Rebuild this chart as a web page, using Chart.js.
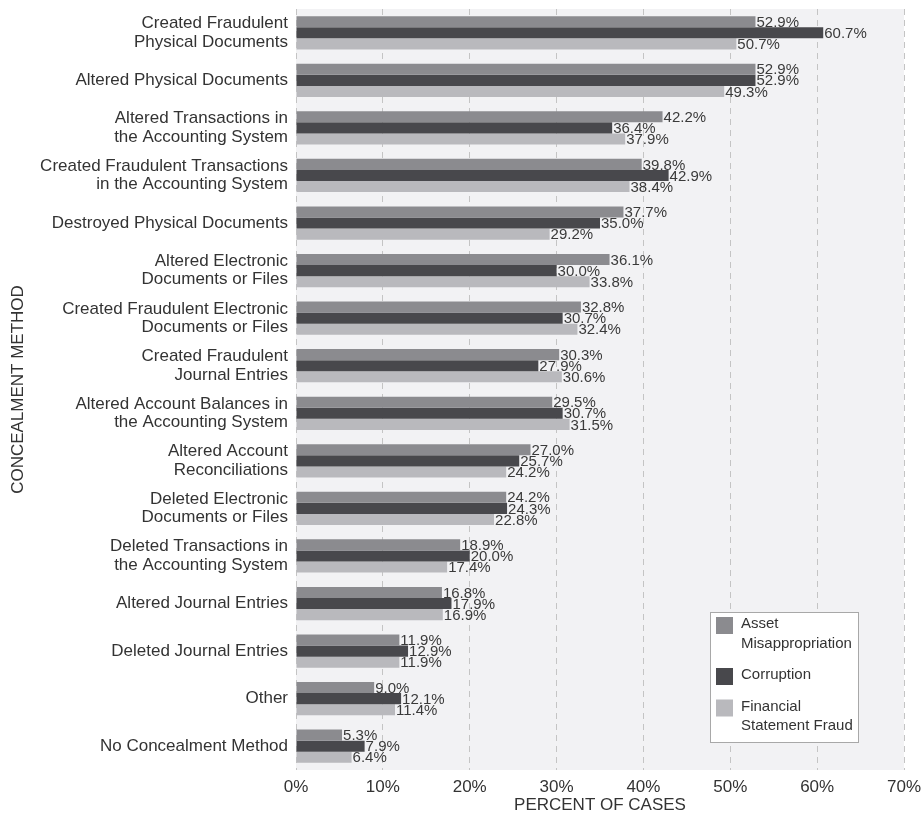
<!DOCTYPE html>
<html>
<head>
<meta charset="utf-8">
<title>Concealment Method by Scheme Type</title>
<script src="https://cdn.jsdelivr.net/npm/chart.js@4.4.1/dist/chart.umd.min.js"></script>
<style>
  html, body { margin: 0; padding: 0; background: #ffffff; }
  #wrap { width: 922px; height: 821px; position: relative; }
</style>
</head>
<body>
<div id="wrap"><canvas id="chart"></canvas></div>
<script>
const CATEGORIES = [
  ["Created Fraudulent", "Physical Documents"],
  "Altered Physical Documents",
  ["Altered Transactions in", "the Accounting System"],
  ["Created Fraudulent Transactions", "in the Accounting System"],
  "Destroyed Physical Documents",
  ["Altered Electronic", "Documents or Files"],
  ["Created Fraudulent Electronic", "Documents or Files"],
  ["Created Fraudulent", "Journal Entries"],
  ["Altered Account Balances in", "the Accounting System"],
  ["Altered Account", "Reconciliations"],
  ["Deleted Electronic", "Documents or Files"],
  ["Deleted Transactions in", "the Accounting System"],
  "Altered Journal Entries",
  "Deleted Journal Entries",
  "Other",
  "No Concealment Method",
];

const ASSET_MISAPPROPRIATION = [52.9, 52.9, 42.2, 39.8, 37.7, 36.1, 32.8, 30.3, 29.5, 27.0, 24.2, 18.9, 16.8, 11.9, 9.0, 5.3];
const CORRUPTION = [60.7, 52.9, 36.4, 42.9, 35.0, 30.0, 30.7, 27.9, 30.7, 25.7, 24.3, 20.0, 17.9, 12.9, 12.1, 7.9];
const FINANCIAL_STATEMENT_FRAUD = [50.7, 49.3, 37.9, 38.4, 29.2, 33.8, 32.4, 30.6, 31.5, 24.2, 22.8, 17.4, 16.9, 11.9, 11.4, 6.4];

const SERIES_LABELS = ["Asset Misappropriation", "Corruption", "Financial Statement Fraud"];
const LEGEND_LINES = [["Asset", "Misappropriation"], ["Corruption"], ["Financial", "Statement Fraud"]];
const X_TICKS = [0, 10, 20, 30, 40, 50, 60, 70];

const COLORS = ["#8b8b8f", "#48484c", "#b9b9bd"];
const FONT = '"Liberation Sans", Arial, Helvetica, sans-serif';
const TEXT = "#333333";

// light grey plot panel behind the bars
const panelBackground = {
  id: "panelBackground",
  beforeDraw(chart) {
    const { ctx, chartArea: a } = chart;
    ctx.save();
    ctx.fillStyle = "#f2f2f4";
    ctx.fillRect(a.left, a.top, a.right - a.left, a.bottom - a.top);
    ctx.restore();
  },
};

// "52.9%" style labels at the end of each bar
const valueLabels = {
  id: "valueLabels",
  afterDatasetsDraw(chart) {
    const { ctx } = chart;
    ctx.save();
    ctx.font = "15px " + FONT;
    ctx.fillStyle = "#3a3a3a";
    ctx.textBaseline = "middle";
    ctx.textAlign = "left";
    chart.data.datasets.forEach((ds, i) => {
      chart.getDatasetMeta(i).data.forEach((bar, j) => {
        ctx.fillText(ds.data[j].toFixed(1) + "%", bar.x + 1, bar.y + 1);
      });
    });
    ctx.restore();
  },
};

// boxed legend in the lower right corner, with wrapped labels
const boxLegend = {
  id: "boxLegend",
  afterDraw(chart) {
    const { ctx, chartArea: a } = chart;
    const boxW = 148, boxH = 130;
    const left = a.right - 46 - boxW;
    const top = a.bottom - 28 - boxH;
    ctx.save();
    ctx.fillStyle = "#ffffff";
    ctx.fillRect(left, top, boxW, boxH);
    ctx.strokeStyle = "#a8a8a8";
    ctx.lineWidth = 1;
    ctx.strokeRect(left + 0.5, top + 0.5, boxW, boxH);
    ctx.font = "15px " + FONT;
    ctx.textBaseline = "middle";
    ctx.textAlign = "left";
    let y = top + 5;
    chart.data.datasets.forEach((ds, i) => {
      const lines = LEGEND_LINES[i];
      ctx.fillStyle = ds.backgroundColor;
      ctx.fillRect(left + 6, y, 17, 17);
      ctx.fillStyle = TEXT;
      lines.forEach((line, k) => ctx.fillText(line, left + 31, y + 7 + k * 19.5));
      y += lines.length * 19.5 + 12;
    });
    ctx.restore();
  },
};

new Chart(document.getElementById("chart"), {
  type: "bar",
  data: {
    labels: CATEGORIES,
    datasets: [
      { label: SERIES_LABELS[0], data: ASSET_MISAPPROPRIATION, backgroundColor: COLORS[0] },
      { label: SERIES_LABELS[1], data: CORRUPTION, backgroundColor: COLORS[1] },
      { label: SERIES_LABELS[2], data: FINANCIAL_STATEMENT_FRAUD, backgroundColor: COLORS[2] },
    ],
  },
  options: {
    indexAxis: "y",
    responsive: true,
    maintainAspectRatio: false,
    animation: false,
    datasets: { bar: { categoryPercentage: 0.7, barPercentage: 1.0, borderWidth: 0 } },
    layout: { padding: { top: 9, right: 18, bottom: 0, left: 0 } },
    plugins: { legend: { display: false }, tooltip: { enabled: false } },
    scales: {
      x: {
        min: 0,
        max: 70,
        afterBuildTicks: (scale) => { scale.ticks = X_TICKS.map((v) => ({ value: v })); },
        afterFit: (scale) => { scale.height = 51; scale.paddingLeft = 0; scale.paddingRight = 0; },
        border: { display: false, dash: [6, 5] },
        grid: { color: "#c4c4c4", drawTicks: false },
        ticks: {
          padding: 7,
          color: TEXT,
          font: { family: FONT, size: 17 },
          callback: (v) => v + "%",
        },
        title: {
          display: true,
          text: "PERCENT OF CASES",
          color: TEXT,
          font: { family: FONT, size: 17 },
          padding: { top: 0, bottom: 5 },
        },
      },
      y: {
        afterFit: (scale) => { scale.width = 296; scale.paddingTop = 0; scale.paddingBottom = 0; },
        border: { display: false },
        grid: { display: false, drawTicks: false },
        ticks: {
          padding: 8,
          color: TEXT,
          autoSkip: false,
          font: { family: FONT, size: 17, lineHeight: 1.08 },
        },
        title: {
          display: true,
          text: "CONCEALMENT METHOD",
          color: TEXT,
          font: { family: FONT, size: 17 },
          padding: { top: 8, bottom: 0 },
        },
      },
    },
  },
  plugins: [panelBackground, valueLabels, boxLegend],
});
</script>
</body>
</html>
